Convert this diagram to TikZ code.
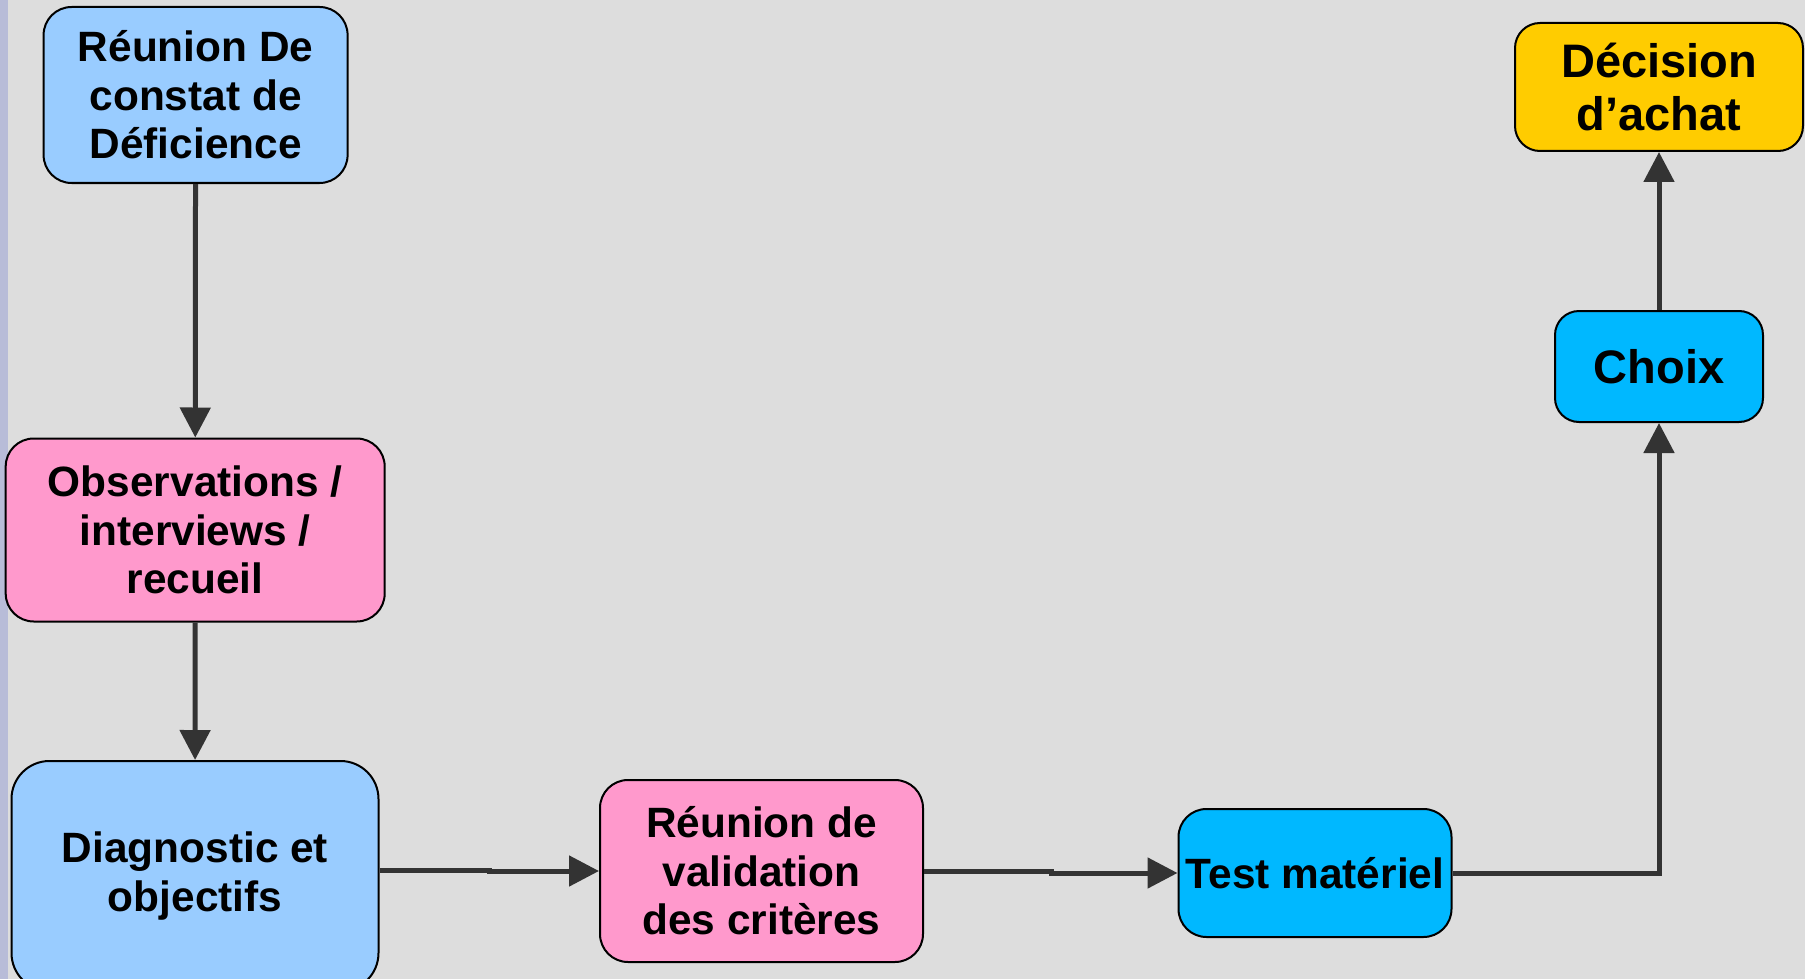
\documentclass[tikz,border=0pt]{standalone}
\usepackage{fontspec}
\setmainfont{Liberation Sans}
\usetikzlibrary{arrows.meta}
\definecolor{bgrey}{RGB}{221,221,221}
\definecolor{sidebar}{RGB}{184,188,216}
\definecolor{skyblue}{RGB}{153,204,255}
\definecolor{rosepink}{RGB}{255,153,204}
\definecolor{cyanbox}{RGB}{0,184,255}
\definecolor{goldbox}{RGB}{255,204,0}
\definecolor{linkgrey}{RGB}{51,51,51}
\begin{document}
\begin{tikzpicture}[x=0.5pt,y=-0.5pt,
    stepbox/.style={draw=black,line width=1pt,rounded corners=14pt,inner sep=0pt,
      align=center,font=\bfseries\fontsize{21.2pt}{24.25pt}\selectfont},
    bigbox/.style={stepbox,font=\bfseries\fontsize{23.5pt}{26.5pt}\selectfont},
    link/.style={draw=linkgrey,line width=2.5pt,-{Triangle[width=15pt,length=15pt]}}]
      % Background
      \fill[bgrey] (0,0) rectangle (1805,979);
      \fill[sidebar] (0,0) rectangle (8,979);
      \useasboundingbox (0,0) rectangle (1805,979);
      % Left column
      \node[stepbox,fill=skyblue,minimum width=152pt,minimum height=88pt] (constat) at (195.6,95)
        {Réunion De\\constat de\\Déficience};
      \node[stepbox,fill=rosepink,minimum width=189.5pt,minimum height=91.5pt] (recueil) at (195.2,530)
        {Observations /\\interviews /\\recueil};
      \node[stepbox,fill=skyblue,rounded corners=19pt,minimum width=183.5pt,minimum height=115pt] (diag) at (195,876)
        {Diagnostic et\\objectifs};
      % Bottom row
      \node[stepbox,fill=rosepink,minimum width=161.5pt,minimum height=91pt] (valid) at (761.5,871)
        {Réunion de\\validation\\des critères};
      \node[stepbox,fill=cyanbox,minimum width=136.5pt,minimum height=64pt] (test) at (1315,873)
        {Test matériel};
      % Right column
      \node[bigbox,fill=cyanbox,rounded corners=12pt,minimum width=104pt,minimum height=55.5pt] (choix) at (1659,366.5)
        {Choix};
      \node[bigbox,fill=goldbox,rounded corners=12.5pt,minimum width=144pt,minimum height=64pt] (achat) at (1659,87)
        {Décision\\d’achat};
      % Links
      \draw[link] (constat) -- (recueil);
      \draw[link] (recueil) -- (diag);
      \draw[link] (diag.east) ++(0,-6) -- ++(110,0) |- (valid.west);
      \draw[link] (valid.east) -- ++(127,0) |- (test.west);
      \draw[link] (test.east) -| (choix.south);
      \draw[link] (choix) -- (achat);
\end{tikzpicture}
\end{document}
